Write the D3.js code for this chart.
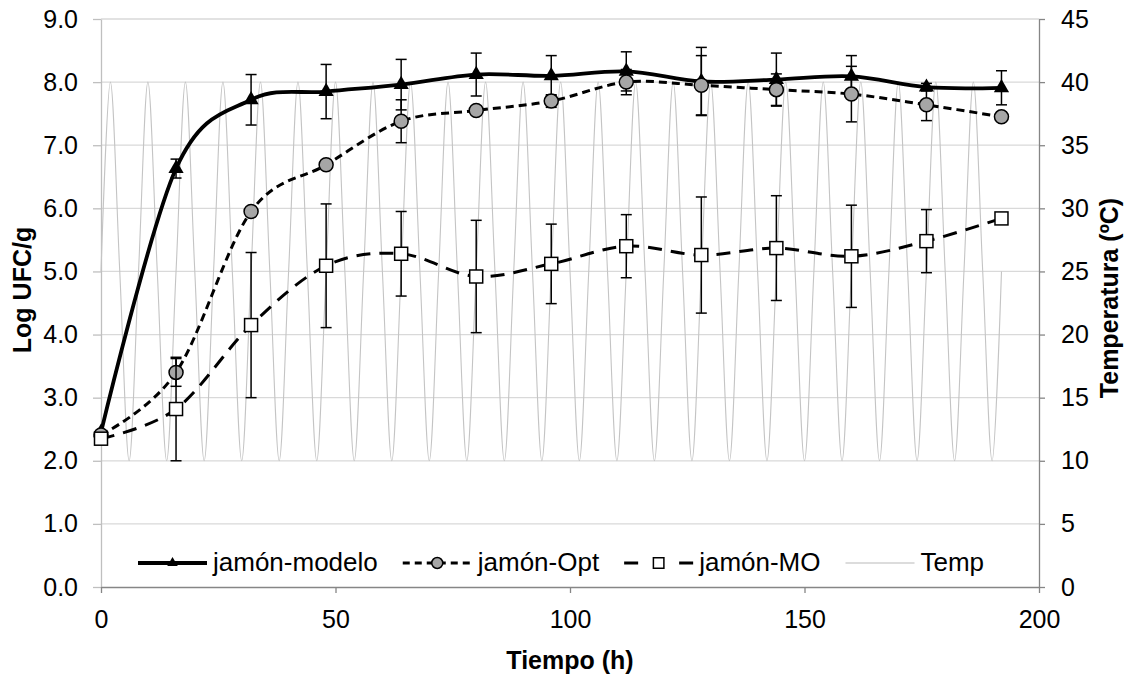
<!DOCTYPE html>
<html><head><meta charset="utf-8">
<script src="https://cdn.jsdelivr.net/npm/d3@7"></script>
<style>body{margin:0;background:#fff} svg{display:block;font-family:"Liberation Sans",Arial,sans-serif}</style>
</head><body><svg id="c" width="1136" height="677"></svg>
<script>
// ---- data ----
const hours = [0,16,32,48,64,80,96,112,128,144,160,176,192];
const modelo = [2.45,6.63,7.72,7.85,7.96,8.12,8.10,8.17,8.01,8.04,8.09,7.92,7.91];
const errModelo = [0,0.15,0.40,0.43,0.40,0.34,0.32,0.31,0.54,0.42,0.33,0.06,0.27];
const opt = [2.41,3.40,5.95,6.69,7.38,7.55,7.70,8.00,7.95,7.88,7.81,7.64,7.45];
const errOpt = [0,0.22,0,0,0.34,0,0.10,0.20,0.47,0.25,0.44,0.25,0];
const mo = [2.35,2.82,4.15,5.09,5.28,4.92,5.12,5.40,5.26,5.37,5.24,5.48,5.84];
const errMo = [0,0.82,1.15,0.98,0.67,0.89,0.63,0.50,0.92,0.83,0.81,0.50,0];
const tempHours = [0,2,4,6,8,10,12,14,16,18,20,22,24,26,28,30,32,34,36,38,40,42,44,46,48,50,52,54,56,58,60,62,64,66,68,70,72,74,76,78,80,82,84,86,88,90,92,94,96,98,100,102,104,106,108,110,112,114,116,118,120,122,124,126,128,130,132,134,136,138,140,142,144,146,148,150,152,154,156,158,160,162,164,166,168,170,172,174,176,178,180,182,184,186,188,190,192];
const temp = [25,40,25,10,25,40,25,10,25,40,25,10,25,40,25,10,25,40,25,10,25,40,25,10,25,40,25,10,25,40,25,10,25,40,25,10,25,40,25,10,25,40,25,10,25,40,25,10,25,40,25,10,25,40,25,10,25,40,25,10,25,40,25,10,25,40,25,10,25,40,25,10,25,40,25,10,25,40,25,10,25,40,25,10,25,40,25,10,25,40,25,10,25,40,25,10,25];
const leftTicks = [0,1,2,3,4,5,6,7,8,9];
const rightTicks = [0,5,10,15,20,25,30,35,40,45];
const xTicks = [0,50,100,150,200];
const seriesNames = ["jamón-modelo","jamón-Opt","jamón-MO","Temp"];
const xTitle = "Tiempo (h)", yTitle = "Log UFC/g", y2Title = "Temperatura (ºC)";

// ---- scales ----
const svg = d3.select("#c");
const x = d3.scaleLinear().domain([0,200]).range([101,1039]);
const y = d3.scaleLinear().domain([0,9]).range([587,19]);
const y2 = d3.scaleLinear().domain([0,45]).range([587,19]);

// gridlines
svg.append("g").selectAll("line").data(leftTicks.filter(d=>d>0)).join("line")
  .attr("x1",101).attr("x2",1039).attr("y1",d=>y(d)).attr("y2",d=>y(d))
  .attr("stroke","#d9d9d9").attr("stroke-width",1.3);

// axes
function styleAxis(g, col){
  g.select(".domain").attr("stroke",col).attr("stroke-width",1.3);
  g.selectAll(".tick line").attr("stroke",col).attr("stroke-width",1.3);
  g.selectAll("text").attr("font-size",25).attr("fill","#000")
    .attr("font-family",'"Liberation Sans",Arial,sans-serif');
}
svg.append("g").attr("transform","translate(101,0)")
  .call(d3.axisLeft(y).tickValues(leftTicks).tickFormat(d3.format(".1f")).tickSize(8).tickSizeOuter(0).tickPadding(15))
  .call(g=>styleAxis(g,"#bfbfbf"));
svg.append("g").attr("transform","translate(1039,0)")
  .call(d3.axisRight(y2).tickValues(rightTicks).tickSize(6).tickSizeOuter(0).tickPadding(16))
  .call(g=>styleAxis(g,"#868686"));
svg.append("g").attr("transform","translate(0,587)")
  .call(d3.axisBottom(x).tickValues(xTicks).tickSize(6).tickSizeOuter(0).tickPadding(17))
  .call(g=>styleAxis(g,"#868686"));

// titles
svg.append("text").attr("x",570).attr("y",669).attr("text-anchor","middle")
  .attr("font-size",25).attr("font-weight","bold").text(xTitle);
svg.append("text").attr("transform","translate(31,290) rotate(-90)").attr("text-anchor","middle")
  .attr("font-size",25).attr("font-weight","bold").text(yTitle);
svg.append("text").attr("transform","translate(1118,298) rotate(-90)").attr("text-anchor","middle")
  .attr("font-size",25).attr("font-weight","bold").text(y2Title);

// temperature
const curve = d3.curveCardinal.tension(0);
svg.append("path").datum(tempHours.map((h,i)=>[h,temp[i]]))
  .attr("d", d3.line().x(d=>x(d[0])).y(d=>y2(d[1])).curve(curve))
  .attr("fill","none").attr("stroke","#c4c4c4").attr("stroke-width",1.1);

const series = [
  {vals:modelo, err:errModelo, width:3.8, dash:null, marker:"tri"},
  {vals:opt, err:errOpt, width:3, dash:"8,5", marker:"circ"},
  {vals:mo, err:errMo, width:3, dash:"14,9", marker:"sq"}
];
const lineGen = d3.line().x(d=>x(d[0])).y(d=>y(d[1])).curve(curve);

function drawMarker(g, type, cx, cy, big){
  if(type==="tri"){
    g.append("path").attr("d", d3.symbol(d3.symbolTriangle, big?100:48)())
      .attr("transform",`translate(${cx},${cy})`).attr("fill","#000");
  } else if(type==="circ"){
    g.append("circle").attr("cx",cx).attr("cy",cy).attr("r",big?7:5.5)
      .attr("fill","#a6a6a6").attr("stroke","#000").attr("stroke-width",1.5);
  } else {
    const s = big?13:10.5;
    g.append("rect").attr("x",cx-s/2).attr("y",cy-s/2).attr("width",s).attr("height",s)
      .attr("fill","#fff").attr("stroke","#000").attr("stroke-width",1.5);
  }
}

series.forEach(s=>{
  const g = svg.append("g");
  g.append("path").datum(hours.map((h,i)=>[h,s.vals[i]]))
    .attr("d", lineGen).attr("fill","none").attr("stroke","#000")
    .attr("stroke-width",s.width).attr("stroke-dasharray",s.dash);
  const eb = g.append("g").attr("stroke","#000").attr("stroke-width",1.5);
  hours.forEach((h,i)=>{
    const e = s.err[i]; if(!e) return;
    const cx = x(h), y1 = y(s.vals[i]+e), y0 = y(s.vals[i]-e);
    eb.append("line").attr("x1",cx).attr("x2",cx).attr("y1",y1).attr("y2",y0);
    eb.append("line").attr("x1",cx-5.5).attr("x2",cx+5.5).attr("y1",y1).attr("y2",y1);
    eb.append("line").attr("x1",cx-5.5).attr("x2",cx+5.5).attr("y1",y0).attr("y2",y0);
  });
  hours.forEach((h,i)=>drawMarker(g, s.marker, x(h), y(s.vals[i]), true));
});

// legend
const lg = svg.append("g");
let lx = 138; const ly = 563;
const legendStyles = [
  {stroke:"#000", w:3.8, dash:null, marker:"tri"},
  {stroke:"#000", w:3, dash:"7,5", marker:"circ"},
  {stroke:"#000", w:3, dash:"14,41", marker:"sq"},
  {stroke:"#d0d0d0", w:1.5, dash:null, marker:null}
];
seriesNames.forEach((name,i)=>{
  const st = legendStyles[i];
  lg.append("line").attr("x1",lx).attr("x2",lx+69).attr("y1",ly).attr("y2",ly)
    .attr("stroke",st.stroke).attr("stroke-width",st.w).attr("stroke-dasharray",st.dash);
  if(st.marker) drawMarker(lg, st.marker, lx+34.5, ly, false);
  const t = lg.append("text").attr("x",lx+75).attr("y",ly+8).attr("font-size",26).attr("fill","#000").text(name);
  lx = lx + 75 + t.node().getComputedTextLength() + 25;
});
</script></body></html>
